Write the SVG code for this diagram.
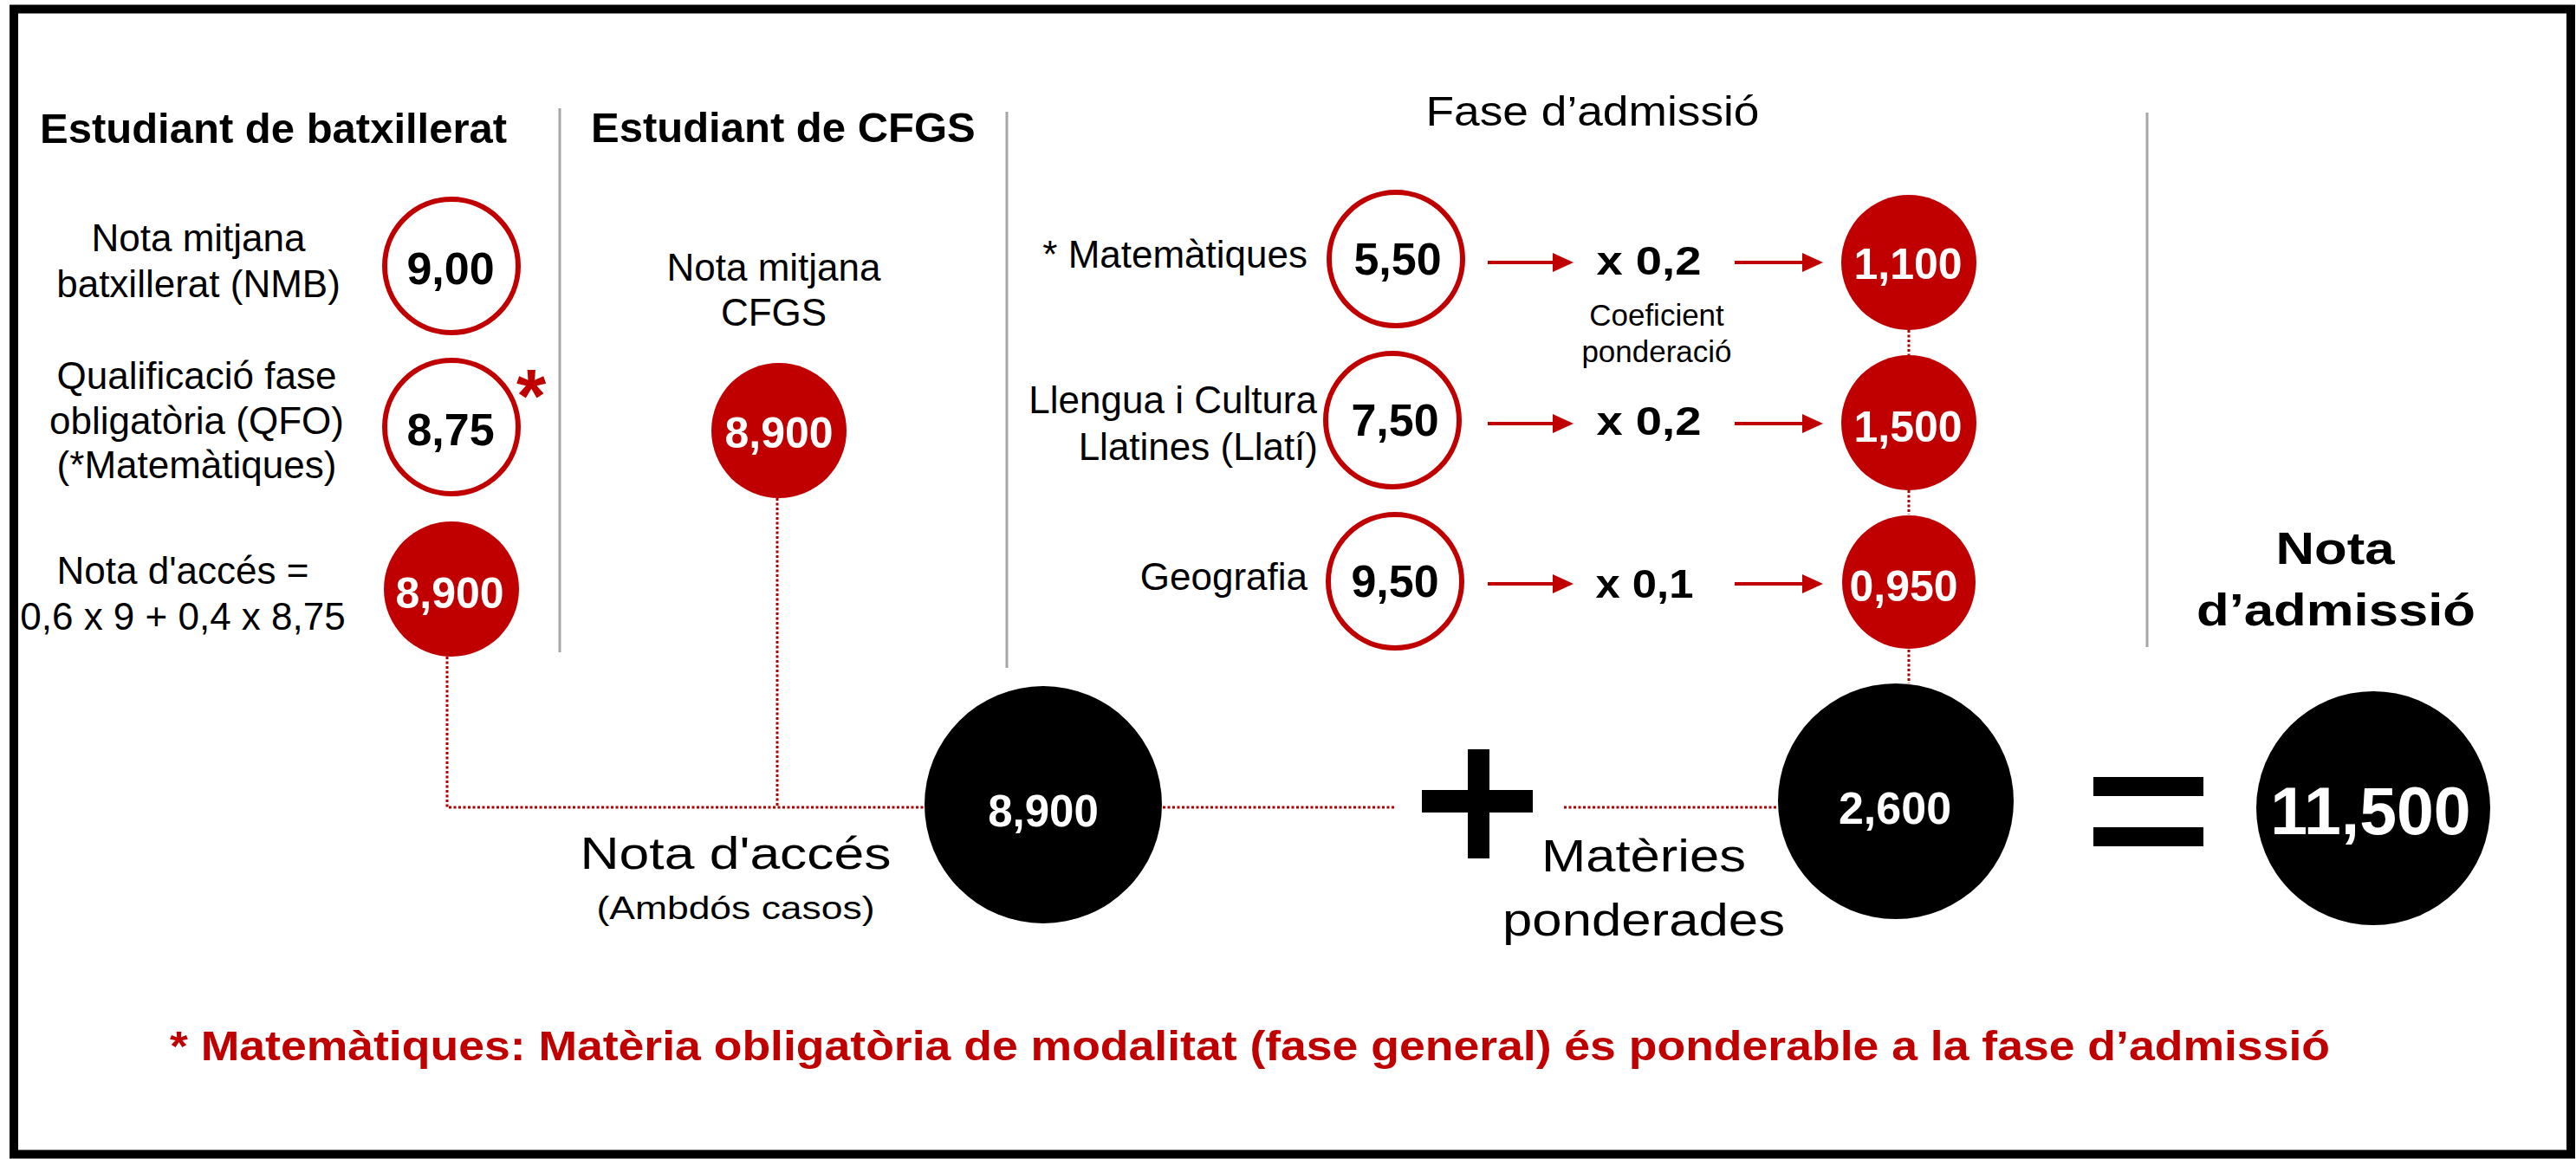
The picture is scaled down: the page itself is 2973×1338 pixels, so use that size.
<svg xmlns="http://www.w3.org/2000/svg" width="2973" height="1338" viewBox="0 0 2973 1338">
<defs>
<style>
text{font-family:"Liberation Sans",Arial,sans-serif;fill:#000}
.h{font-weight:bold;font-size:49px}
.lbl{font-size:44px;text-anchor:middle}
.lblr{font-size:44px;text-anchor:end}
.num{font-weight:bold;font-size:52px;text-anchor:middle}
.wnum{font-weight:bold;font-size:50px;text-anchor:middle;fill:#fff}
.mul{font-weight:bold;font-size:47px;text-anchor:middle}
.oc{fill:#fff;stroke:#C00000;stroke-width:6}
.rc{fill:#C00000}
.bc{fill:#000}
.dot{fill:none;stroke:#B00000;stroke-width:3;stroke-dasharray:3 2.5}
.sep{stroke:#A6A6A6;stroke-width:3}
.arr{stroke:#C00000;stroke-width:4;marker-end:url(#ah)}
.bar{fill:#000}
.red{fill:#C00000}
</style>
<marker id="ah" markerUnits="userSpaceOnUse" markerWidth="26" markerHeight="22" refX="0" refY="11" orient="auto"><path d="M0,0 L24,11 L0,22 z" fill="#C00000"/></marker>
</defs>
<rect x="0" y="0" width="2973" height="1338" fill="#fff"/>
<rect x="16" y="10.5" width="2951" height="1322" fill="none" stroke="#000" stroke-width="10"/>

<g id="separators">
<line class="sep" x1="646" y1="125" x2="646" y2="753"/>
<line class="sep" x1="1162" y1="129" x2="1162" y2="771"/>
<line class="sep" x1="2478" y1="130" x2="2478" y2="747"/>
</g>

<g id="connectors">
<polyline class="dot" points="516,758 516,932 1068,932"/>
<line class="dot" x1="897" y1="575" x2="897" y2="932"/>
<line class="dot" x1="1342" y1="932" x2="1611" y2="932"/>
<line class="dot" x1="1805" y1="932" x2="2052" y2="932"/>
<line class="dot" x1="2203" y1="381" x2="2203" y2="410"/>
<line class="dot" x1="2203" y1="566" x2="2203" y2="594"/>
<line class="dot" x1="2203" y1="750" x2="2203" y2="789"/>
<line class="arr" x1="1717" y1="303" x2="1792" y2="303"/>
<line class="arr" x1="2002" y1="303" x2="2080" y2="303"/>
<line class="arr" x1="1717" y1="489" x2="1792" y2="489"/>
<line class="arr" x1="2002" y1="489" x2="2080" y2="489"/>
<line class="arr" x1="1717" y1="674" x2="1792" y2="674"/>
<line class="arr" x1="2002" y1="674" x2="2080" y2="674"/>
</g>

<g id="col-batxillerat">
<text class="h" x="46" y="165">Estudiant de batxillerat</text>
<text class="lbl" x="229" y="290">Nota mitjana</text>
<text class="lbl" x="229" y="343">batxillerat (NMB)</text>
<text class="lbl" x="227" y="449">Qualificació fase</text>
<text class="lbl" x="227" y="501">obligatòria (QFO)</text>
<text class="lbl" x="227" y="552">(*Matemàtiques)</text>
<text class="lbl" x="211" y="674">Nota d'accés =</text>
<text class="lbl" x="211" y="727">0,6 x 9 + 0,4 x 8,75</text>
</g>
<g id="node-nmb"><circle class="oc" cx="521" cy="307" r="77"/><text class="num" x="520" y="328">9,00</text></g>
<g id="node-qfo"><circle class="oc" cx="521" cy="493" r="77"/><text class="num" x="520" y="514">8,75</text>
<text class="red" x="613" y="487" text-anchor="middle" style="font-size:88px;font-weight:bold">*</text></g>
<g id="node-acces-bat"><circle class="rc" cx="521" cy="680" r="78"/><text class="wnum" x="519" y="702">8,900</text></g>

<g id="col-cfgs">
<text class="h" x="682" y="164">Estudiant de CFGS</text>
<text class="lbl" x="893" y="324">Nota mitjana</text>
<text class="lbl" x="893" y="376">CFGS</text>
</g>
<g id="node-cfgs"><circle class="rc" cx="899" cy="497" r="78"/><text class="wnum" x="899" y="517">8,900</text></g>

<g id="col-fase">
<text x="1838" y="145" text-anchor="middle" style="font-size:48px" textLength="385" lengthAdjust="spacingAndGlyphs">Fase d’admissió</text>
<text class="lblr" x="1509" y="309">* Matemàtiques</text>
<text class="lblr" x="1520" y="477">Llengua i Cultura</text>
<text class="lblr" x="1521" y="531">Llatines (Llatí)</text>
<text class="lblr" x="1509" y="681">Geografia</text>
<text x="1912" y="376" text-anchor="middle" style="font-size:35px">Coeficient</text>
<text x="1912" y="418" text-anchor="middle" style="font-size:35px">ponderació</text>
</g>
<g id="node-mat"><circle class="oc" cx="1611" cy="299" r="77"/><text class="num" x="1613" y="317">5,50</text></g>
<g id="node-llati"><circle class="oc" cx="1607" cy="485" r="77"/><text class="num" x="1610" y="503">7,50</text></g>
<g id="node-geo"><circle class="oc" cx="1610" cy="671" r="77"/><text class="num" x="1610" y="689">9,50</text></g>
<g id="coef-1"><text class="mul" x="1903" y="317" textLength="121" lengthAdjust="spacingAndGlyphs">x 0,2</text></g>
<g id="coef-2"><text class="mul" x="1903" y="502" textLength="121" lengthAdjust="spacingAndGlyphs">x 0,2</text></g>
<g id="coef-3"><text class="mul" x="1898" y="690" textLength="113" lengthAdjust="spacingAndGlyphs">x 0,1</text></g>
<g id="node-r1"><circle class="rc" cx="2203" cy="303" r="78"/><text class="wnum" x="2202" y="322">1,100</text></g>
<g id="node-r2"><circle class="rc" cx="2203" cy="488" r="78"/><text class="wnum" x="2202" y="510">1,500</text></g>
<g id="node-r3"><circle class="rc" cx="2203" cy="672" r="77"/><text class="wnum" x="2197" y="694">0,950</text></g>

<g id="node-nota-acces">
<circle class="bc" cx="1204" cy="929" r="137"/>
<text class="wnum" x="1204" y="954" style="font-size:51px">8,900</text>
<text x="849" y="1003" text-anchor="middle" style="font-size:52px" textLength="359" lengthAdjust="spacingAndGlyphs">Nota d'accés</text>
<text x="849" y="1061" text-anchor="middle" style="font-size:37px" textLength="321" lengthAdjust="spacingAndGlyphs">(Ambdós casos)</text>
</g>
<g id="op-plus">
<rect class="bar" x="1694" y="865" width="25" height="126"/>
<rect class="bar" x="1641" y="912" width="128" height="26"/>
</g>
<g id="node-ponderades">
<circle class="bc" cx="2188" cy="925" r="136"/>
<text class="wnum" x="2187" y="951" style="font-size:52px">2,600</text>
<text x="1897" y="1006" text-anchor="middle" style="font-size:51px" textLength="236" lengthAdjust="spacingAndGlyphs">Matèries</text>
<text x="1897" y="1080" text-anchor="middle" style="font-size:51px" textLength="326" lengthAdjust="spacingAndGlyphs">ponderades</text>
</g>
<g id="op-equals">
<rect class="bar" x="2416" y="897" width="127" height="22"/>
<rect class="bar" x="2416" y="955" width="127" height="22"/>
</g>
<g id="node-admissio">
<text x="2695" y="651" text-anchor="middle" style="font-size:52px;font-weight:bold" textLength="137" lengthAdjust="spacingAndGlyphs">Nota</text>
<text x="2696" y="722" text-anchor="middle" style="font-size:52px;font-weight:bold" textLength="322" lengthAdjust="spacingAndGlyphs">d’admissió</text>
<circle class="bc" cx="2739" cy="933" r="135"/>
<text class="wnum" x="2736" y="963" style="font-size:77px">11,500</text>
</g>

<g id="footnote">
<text class="red" x="196" y="1224" style="font-size:48px;font-weight:bold" textLength="2493" lengthAdjust="spacingAndGlyphs">* Matemàtiques: Matèria obligatòria de modalitat (fase general) és ponderable a la fase d’admissió</text>
</g>
</svg>
